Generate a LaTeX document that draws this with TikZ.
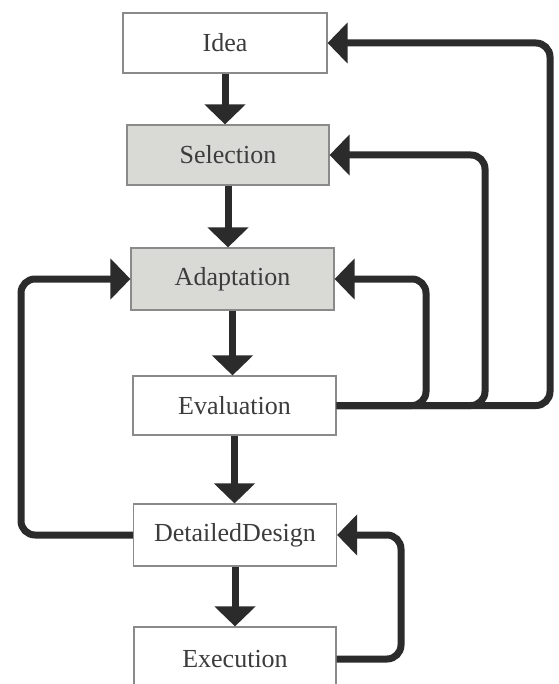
\documentclass[tikz,border=0pt]{standalone}
\usepackage{fontspec}
\setmainfont{Liberation Serif}
\usetikzlibrary{arrows.meta}
\definecolor{linec}{HTML}{2B2B2B}
\definecolor{boxfill}{HTML}{D9D9D6}
\definecolor{boxline}{HTML}{8A8A8A}
\definecolor{txt}{HTML}{3C3C3C}
\begin{document}
\begin{tikzpicture}[x=1pt,y=-1pt,
  box/.style={draw=boxline, line width=1.2pt, fill=white, text=txt,
    font=\fontsize{26}{31}\selectfont, inner sep=0pt},
  shaded/.style={box, fill=boxfill},
  flow/.style={draw=linec, line width=7pt, -{Triangle[length=20pt,width=40pt]}},
  loopline/.style={flow, rounded corners=14pt}]
\clip (0,0) rectangle (558,684);
\fill[white] (0,0) rectangle (558,684);
\node[box, minimum width=204pt, minimum height=60pt] (idea) at (225,43) {Idea};
\node[shaded, minimum width=202pt, minimum height=60pt] (sel) at (228,155) {Selection};
\node[shaded, minimum width=203pt, minimum height=62pt] (adapt) at (232.5,279) {Adaptation};
\node[box, minimum width=203pt, minimum height=59pt] (eval) at (234.5,405.5) {Evaluation};
\node[box, minimum width=203pt, minimum height=62pt] (dd) at (235,535) {DetailedDesign};
\node[box, minimum width=202pt, minimum height=64pt] (exec) at (235,659) {Execution};
% main flow
\draw[flow] (idea.south) -- (idea.south |- sel.north);
\draw[flow] (sel.south) -- (sel.south |- adapt.north);
\draw[flow] (adapt.south) -- (adapt.south |- eval.north);
\draw[flow] (eval.south) -- (eval.south |- dd.north);
\draw[flow] (dd.south) -- (dd.south |- exec.north);
% feedback loops
\draw[loopline] (eval.east) -| (550,43) -- (idea.east);
\draw[loopline] (eval.east) -| (485,155) -- (sel.east);
\draw[loopline] (eval.east) -| (426,279) -- (adapt.east);
\draw[loopline] (dd.west) -| (21,279) -- (adapt.west);
\draw[loopline] (exec.east) -| (401,535) -- (dd.east);
\end{tikzpicture}
\end{document}
